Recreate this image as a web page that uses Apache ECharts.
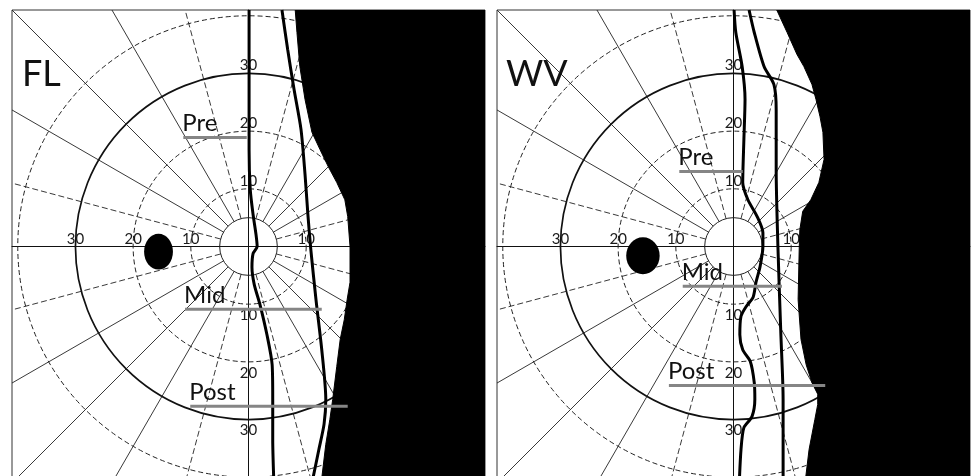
<!DOCTYPE html>
<html>
<head>
<meta charset="utf-8">
<script src="https://cdn.jsdelivr.net/npm/echarts@6/dist/echarts.min.js"></script>
<style>
  html, body { margin: 0; padding: 0; background: #fff; }
  #chart { width: 977px; height: 476px; }
</style>
</head>
<body>
<div id="chart"></div>
<script>
// Kinetic visual field plots, eccentricity in degrees (x: horizontal, y: vertical)
const panelNames = ['FL', 'WV'];
const ringRadii = [5, 10, 20, 30, 40];
const ringLabelValues = [10, 20, 30];
const meridianAngles = [15, 30, 45, 60, 75, 105, 120, 135, 150, 165, 195, 210, 225, 240, 255, 285, 300, 315, 330, 345];

// FL: isopter traces and edge of the dense field loss
const flInner = [[0.1, 41], [0.1, 30], [0.1, 16.8], [0.3, 9.9], [0.8, 5.5], [1.3, 2.1], [1.5, 0], [0.8, -1.2], [0.6, -3.6], [1.0, -6.6], [2.0, -10.1], [3.2, -15.3], [4.1, -20.5], [4.2, -26.5], [4.2, -33.4], [4.4, -41]];
const flOuter = [[5.8, 41], [6.8, 34.1], [7.9, 27.2], [9.1, 20.3], [9.8, 12.5], [10.3, 5.5], [10.8, -0.5], [11.7, -9.2], [12.7, -17.9], [13.4, -26.5], [13.1, -30.8], [12.2, -35.2], [11.0, -41]];
const flLossEdge = [[8.1, 41], [8.4, 37.1], [8.9, 31.2], [9.8, 25.5], [11.0, 19.8], [12.4, 16.8], [13.8, 13.9], [15.3, 11.1], [16.7, 8.1], [17.2, 5.2], [17.6, 0], [17.6, -6.2], [17.1, -9.2], [16.6, -12.7], [15.9, -16.1], [15.3, -20.8], [14.6, -26.5], [14.1, -30.0], [13.4, -34.3], [12.6, -41]];
const flBlindSpot = [-15.6, -0.9, 2.5, 3.1];   // cx, cy, rx, ry

// WV: isopter traces and edge of the dense field loss
const wvInner = [[0.1, 41], [0.4, 37.1], [1.5, 31.2], [2.0, 25.5], [1.8, 18.5], [1.6, 11.1], [2.5, 8.1], [4.1, 5.2], [5.1, 2.4], [5.1, 0], [4.6, -3.5], [3.9, -6.2], [3.4, -8.8], [2.2, -10.4], [1.3, -12.1], [1.1, -15.3], [1.6, -17.9], [2.9, -19.9], [3.6, -23.6], [3.7, -26.5], [3.2, -29.5], [1.8, -31.4], [1.3, -35.2], [1.0, -41]];
const wvOuter = [[2.7, 41], [3.6, 37.1], [5.3, 31.2], [7.0, 28.1], [7.4, 23.7], [7.4, 13.3], [7.7, 0], [8.2, -14.9], [8.6, -26.5], [8.6, -41]];
const wvLossEdge = [[7.5, 41], [9.3, 37.1], [11.0, 33.3], [12.2, 31.2], [13.6, 28.1], [14.3, 25.5], [15.0, 22.5], [15.5, 19.8], [15.7, 15.1], [14.8, 11.1], [13.4, 8.1], [12.0, 6.1], [11.5, 2.9], [11.4, 0], [11.2, -9.2], [11.7, -16.1], [12.6, -20.5], [13.6, -23.6], [14.6, -25.6], [14.6, -27.4], [14.1, -30.0], [13.1, -35.2], [12.4, -41]];
const wvBlindSpot = [-15.7, -1.6, 2.9, 3.2];

// Stage markers: level (y) and horizontal extent
const stageNames = ['Pre', 'Mid', 'Post'];
const flStageY = [18.9, -10.9, -27.7];
const flStageFrom = [-11.3, -11.0, -10.1];
const flStageTo = [-0.3, 12.7, 17.2];
const wvStageY = [13.0, -6.9, -24.1];
const wvStageFrom = [-9.4, -8.8, -11.2];
const wvStageTo = [1.6, 8.4, 15.9];

const LIM = 41;
const FONT = 'Lato, "Open Sans", sans-serif';
const panels = [
  { inner: flInner, outer: flOuter, edge: flLossEdge, spot: flBlindSpot, y: flStageY, from: flStageFrom, to: flStageTo },
  { inner: wvInner, outer: wvOuter, edge: wvLossEdge, spot: wvBlindSpot, y: wvStageY, from: wvStageFrom, to: wvStageTo }
];

function ringStyle(r) {
  if (r === 30) return { stroke: '#111', lineWidth: 1.7, lineDash: null };
  if (r === 5) return { stroke: '#222', lineWidth: 1, lineDash: null };
  return { stroke: '#222', lineWidth: 1, lineDash: [5, 3] };
}

const grids = [], xAxes = [], yAxes = [], series = [];
panels.forEach((p, i) => {
  grids.push({
    left: i === 0 ? 12 : 497, top: 10, width: 473, height: 473,
    outerBoundsMode: 'none',
    show: true, backgroundColor: '#fff', borderColor: '#333', borderWidth: 1
  });
  const axisBase = {
    type: 'value', gridIndex: i, min: -LIM, max: LIM,
    axisLine: { show: true, onZero: true, lineStyle: { color: '#111', width: 1 } },
    axisTick: { show: false }, axisLabel: { show: false }, splitLine: { show: false }
  };
  xAxes.push(Object.assign({}, axisBase));
  yAxes.push(Object.assign({}, axisBase));
  const ax = { xAxisIndex: i, yAxisIndex: i };

  // eccentricity rings
  series.push(Object.assign({
    type: 'custom', z: 2, silent: true, clip: true,
    data: ringRadii.map(r => [r, 0]),
    renderItem: (params, api) => {
      const r = api.value(0);
      const c = api.coord([0, 0]);
      const rp = api.size([r, 0])[0];
      return { type: 'circle', shape: { cx: c[0], cy: c[1], r: rp }, style: Object.assign({ fill: null }, ringStyle(r)) };
    }
  }, ax));

  // meridians from the 5 degree ring out to the frame
  series.push(Object.assign({
    type: 'custom', z: 2, silent: true, clip: true,
    data: meridianAngles.map(a => [a, 0]),
    renderItem: (params, api) => {
      const a = api.value(0) * Math.PI / 180;
      const cs = Math.cos(a), sn = Math.sin(a);
      const t = LIM / Math.max(Math.abs(cs), Math.abs(sn));
      const p0 = api.coord([5 * cs, 5 * sn]);
      const p1 = api.coord([t * cs, t * sn]);
      const m = api.value(0) % 90;
      const dashed = (m === 15 || m === 75);
      return {
        type: 'line', shape: { x1: p0[0], y1: p0[1], x2: p1[0], y2: p1[1] },
        style: { stroke: '#222', lineWidth: 0.9, lineDash: dashed ? [6, 3] : null }
      };
    }
  }, ax));

  // ring value labels along the axes
  const lab = [];
  ringLabelValues.forEach(r => { lab.push([-r, 0, r]); lab.push([r, 0, r]); lab.push([0, r, r]); lab.push([0, -r, r]); });
  series.push(Object.assign({
    type: 'custom', z: 2, silent: true,
    data: lab,
    renderItem: (params, api) => {
      const x = api.value(0), y = api.value(1);
      const c = api.coord([x, y]);
      const dy = y === 0 ? -7 : (y > 0 ? -8 : 11);
      return {
        type: 'text', x: c[0], y: c[1] + dy,
        style: { text: String(api.value(2)), font: '15px ' + FONT, fill: '#1a1a1a',
                 align: 'center', verticalAlign: 'middle', textAlign: 'center', textVerticalAlign: 'middle' }
      };
    }
  }, ax));

  // dense field loss
  series.push(Object.assign({
    type: 'custom', z: 3, silent: true, clip: true,
    data: [[0, 0]],
    renderItem: (params, api) => {
      const pts = p.edge.map(d => api.coord(d));
      const last = p.edge[p.edge.length - 1], first = p.edge[0];
      pts.push(api.coord([LIM, last[1]]));
      pts.push(api.coord([LIM, first[1]]));
      return { type: 'polygon', shape: { points: pts }, style: { fill: '#000', stroke: '#000', lineWidth: 1 } };
    }
  }, ax));

  // physiological blind spot
  series.push(Object.assign({
    type: 'custom', z: 3, silent: true,
    data: [p.spot],
    renderItem: (params, api) => {
      const c = api.coord([api.value(0), api.value(1)]);
      const s = api.size([api.value(2), api.value(3)]);
      return { type: 'ellipse', shape: { cx: c[0], cy: c[1], rx: s[0], ry: s[1] }, style: { fill: '#000' } };
    }
  }, ax));

  // isopters
  [p.inner, p.outer].forEach(tr => {
    series.push(Object.assign({
      type: 'line', z: 4, silent: true, symbol: 'none', smooth: 0.25,
      data: tr, lineStyle: { color: '#000', width: 3 }
    }, ax));
  });

  // stage markers
  series.push(Object.assign({
    type: 'custom', z: 5, silent: true,
    data: stageNames.map((n, k) => [p.from[k], p.y[k], p.to[k]]),
    renderItem: (params, api) => {
      const a = api.coord([api.value(0), api.value(1)]);
      const b = api.coord([api.value(2), api.value(1)]);
      return {
        type: 'group', children: [
          { type: 'line', shape: { x1: a[0], y1: a[1], x2: b[0], y2: b[1] }, style: { stroke: '#858585', lineWidth: 3 } },
          { type: 'text', x: a[0] - 1, y: a[1] - 2,
            style: { text: stageNames[params.dataIndex], font: '24px ' + FONT, fill: '#111',
                     align: 'left', verticalAlign: 'bottom', textAlign: 'left', textVerticalAlign: 'bottom' } }
        ]
      };
    }
  }, ax));
});

const chart = echarts.init(document.getElementById('chart'), null, { renderer: 'canvas' });
chart.setOption({
  animation: false,
  backgroundColor: '#fff',
  title: panelNames.map((n, i) => ({
    text: n, left: i === 0 ? 22 : 506, top: 56, padding: 0,
    textStyle: { fontFamily: FONT, fontSize: 36, fontWeight: 'normal', color: '#111' }
  })),
  grid: grids,
  xAxis: xAxes,
  yAxis: yAxes,
  series: series
});
</script>
</body>
</html>
